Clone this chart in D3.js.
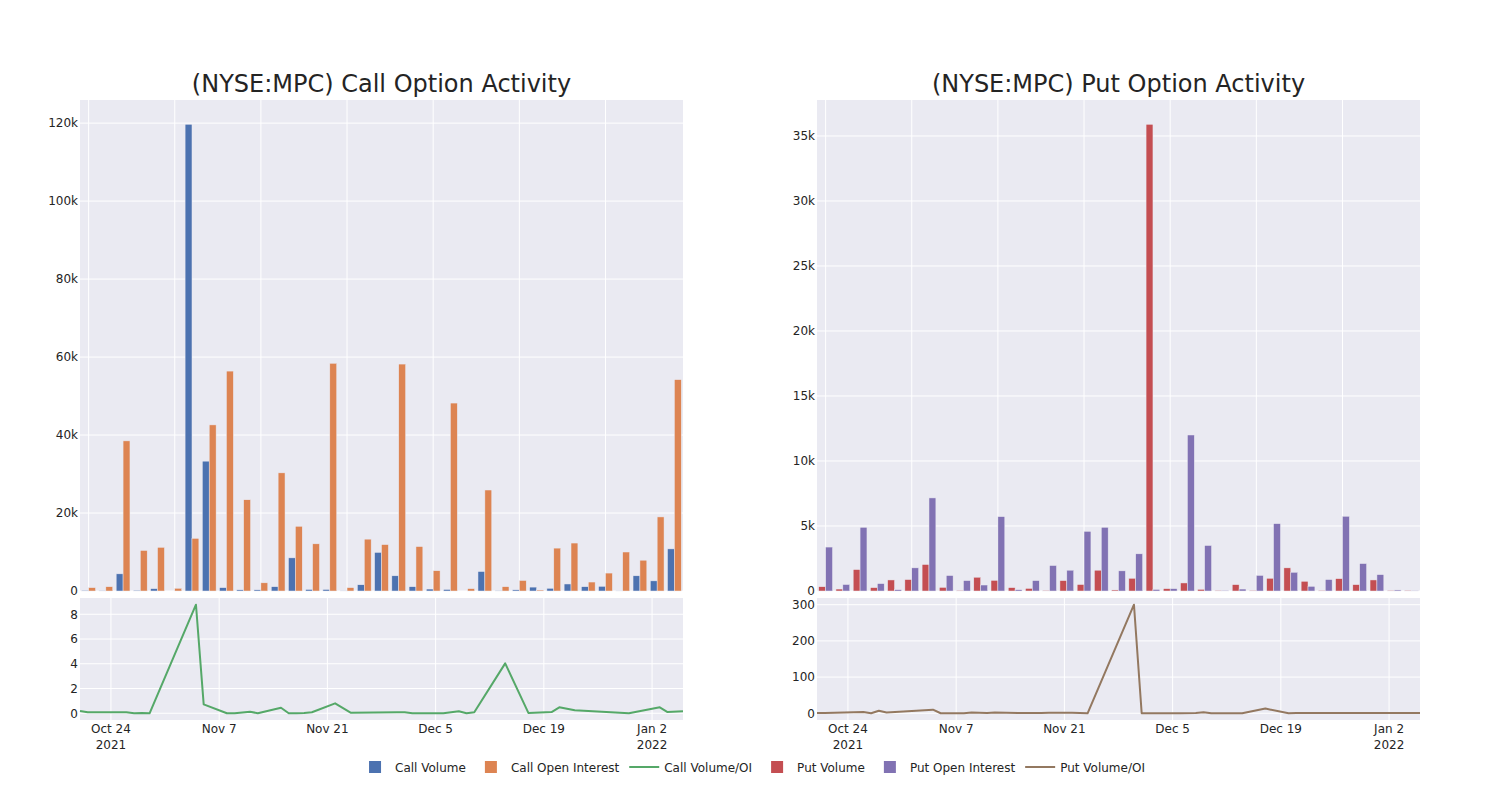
<!DOCTYPE html>
<html lang="en">
<head>
	<meta charset="UTF-8">
	<title>MPC option activity</title>
	<script src="https://cdn.jsdelivr.net/npm/d3@7"></script>
	<style>
		body { margin: 0; background: #fff; }
		text { font-family: "DejaVu Sans", sans-serif; fill: #242424; }
	</style>
</head>
<body>
	<script type="text/javascript">

		var dates = ["2021-10-20", "2021-10-21", "2021-10-26", "2021-10-27", "2021-10-28", "2021-10-29",
			"2021-11-04", "2021-11-05", "2021-11-08", "2021-11-09", "2021-11-11", "2021-11-12",
			"2021-11-15", "2021-11-16", "2021-11-17", "2021-11-18", "2021-11-19", "2021-11-22",
			"2021-11-24", "2021-11-30", "2021-12-01", "2021-12-02", "2021-12-06", "2021-12-08",
			"2021-12-09", "2021-12-10", "2021-12-14", "2021-12-17", "2021-12-20", "2021-12-21",
			"2021-12-23", "2021-12-30", "2022-01-03", "2022-01-04", "2022-01-06"];

		var callVolume = [180, 100, 4400, 200, 600, 0, 119700, 33300, 860, 300, 300, 1100,
			8500, 400, 400, 30, 1600, 9900, 3900, 1100, 500, 400, 0, 5000,
			50, 300, 1000, 700, 1800, 1100, 1200, 20, 3900, 2600, 10800];
		var callOI = [860, 1100, 38500, 10400, 11200, 700, 13500, 42600, 56400, 23400, 2100, 30300,
			16600, 12100, 58400, 860, 13300, 11900, 58200, 11400, 5200, 48200, 600, 25900,
			1100, 2700, 250, 11000, 12300, 2300, 4600, 10000, 7900, 19000, 54200];
		var callRatio = [0.19, 0.08, 0.08, 0, 0.03, 0, 8.77, 0.72, 0, 0, 0.13, 0,
			0.45, 0, 0, 0.02, 0.08, 0.8, 0.05, 0.08, 0.08, 0, 0, 0.16,
			0, 0.08, 4.03, 0.03, 0.1, 0.48, 0.24, 0, 0.48, 0.1, 0.16];

		var putVolume = [330, 150, 1650, 260, 850, 880, 2040, 280, 50, 1060, 820, 260,
			200, 50, 800, 500, 1600, 80, 980, 35900, 180, 620, 130, 50,
			490, 50, 980, 1780, 750, 50, 950, 490, 850, 50, 50];
		var putOI = [3380, 500, 4900, 570, 100, 1780, 7160, 1190, 800, 460, 5720, 100,
			800, 1960, 1600, 4590, 4900, 1550, 2860, 120, 180, 12000, 3500, 50,
			150, 1200, 5180, 1440, 360, 880, 5750, 2110, 1260, 80, 30];
		var putRatio = [1, 1, 3.7, 0, 7, 2, 10, 0, 0, 2, 0.5, 2,
			1, 1, 1, 1, 1.5, 1.5, 0, 300, 0, 0, 0, 1,
			3, 0, 0, 13, 0, 0.5, 0.5, 0.7, 1, 1, 1];

		var callTicks = [0, 20000, 40000, 60000, 80000, 100000, 120000];
		var putTicks = [0, 5000, 10000, 15000, 20000, 25000, 30000, 35000];
		var callRatioTicks = [0, 2, 4, 6, 8];
		var putRatioTicks = [0, 100, 200, 300];
		var dateTicks = ["2021-10-24", "2021-11-07", "2021-11-21", "2021-12-05", "2021-12-19", "2022-01-02"];
		var dateTickLabels = [["Oct 24", "2021"], ["Nov 7"], ["Nov 21"], ["Dec 5"], ["Dec 19"], ["Jan 2", "2022"]];

		var seriesNames = ["Call Volume", "Call Open Interest", "Call Volume/OI", "Put Volume", "Put Open Interest", "Put Volume/OI"];
		var seriesColors = ["#4C72B0", "#DD8452", "#55A868", "#C44E52", "#8172B3", "#937860"];
		var seriesKinds = ["bar", "bar", "line", "bar", "bar", "line"];

		var w = 1500;
		var h = 800;
		var bg = "#EAEAF2";
		var parseDate = d3.timeParse("%Y-%m-%d");

		var svg = d3.select("body")
					.append("svg")
					.attr("width", w)
					.attr("height", h);

		function drawPanel(left, right, title, vol, oi, ratio, yTicks, rTicks, c1, c2, c3){
			var barTop = 100, barBottom = 591, lineTop = 598, lineBottom = 720;

			svg.append("rect").attr("x", left).attr("y", barTop)
				.attr("width", right - left).attr("height", barBottom - barTop).attr("fill", bg);
			svg.append("rect").attr("x", left).attr("y", lineTop)
				.attr("width", right - left).attr("height", lineBottom - lineTop).attr("fill", bg);

			svg.append("text")
				.attr("x", (left + right) / 2).attr("y", 92)
				.attr("text-anchor", "middle")
				.style("font-size", "24px")
				.text(title);

			// bars on a category axis
			var idx = d3.range(dates.length);
			var xBand = d3.scaleBand().domain(idx).range([left, right])
							.paddingInner(0.2).paddingOuter(0.1);
			var xSub = d3.scaleBand().domain([0, 1]).range([0, xBand.bandwidth()]);
			var yMax = Math.max(d3.max(vol), d3.max(oi)) * 1.052;
			var y = d3.scaleLinear().domain([0, yMax]).range([barBottom, barTop]);

			var gGrid = svg.append("g");
			for (var t of yTicks){
				gGrid.append("line").attr("x1", left).attr("x2", right)
					.attr("y1", y(t)).attr("y2", y(t))
					.attr("stroke", "#fff").attr("stroke-width", 1);
			}
			for (var i of idx){
				if (i % 5 != 0) continue;
				var cx = xBand(i) + xBand.step() * 0 + xBand.bandwidth() / 2;
				gGrid.append("line").attr("x1", cx).attr("x2", cx)
					.attr("y1", barTop).attr("y2", barBottom)
					.attr("stroke", "#fff").attr("stroke-width", 1);
			}

			var yAxis = d3.axisLeft(y).tickValues(yTicks).tickFormat(d3.format("~s")).tickSize(0).tickPadding(2);
			var ga = svg.append("g").attr("transform", "translate(" + left + ",0)").call(yAxis);
			ga.select(".domain").remove();
			ga.selectAll("text").style("font-size", "12px").attr("fill", "#242424");

			var sets = [[vol, c1], [oi, c2]];
			sets.forEach(function(s, k){
				svg.append("g").selectAll("rect")
					.data(s[0])
					.enter().append("rect")
					.attr("x", function(d, i){ return xBand(i) + xSub(k); })
					.attr("width", xSub.bandwidth())
					.attr("y", function(d){ return y(d); })
					.attr("height", function(d){ return y(0) - y(d); })
					.attr("fill", s[1])
					.attr("stroke", bg)
					.attr("stroke-width", 0.5);
			});

			// ratio line on a date axis
			var times = dates.map(parseDate);
			var x = d3.scaleTime().domain(d3.extent(times)).range([left, right]);
			var rMax = d3.max(ratio), rMin = d3.min(ratio);
			var pad = (rMax - rMin) * 0.062;
			var yr = d3.scaleLinear().domain([rMin - pad, rMax + pad]).range([lineBottom, lineTop]);

			for (var t of rTicks){
				svg.append("line").attr("x1", left).attr("x2", right)
					.attr("y1", yr(t)).attr("y2", yr(t))
					.attr("stroke", "#fff").attr("stroke-width", 1);
			}
			var tickDates = dateTicks.map(parseDate);
			tickDates.forEach(function(d, k){
				svg.append("line").attr("x1", x(d)).attr("x2", x(d))
					.attr("y1", lineTop).attr("y2", lineBottom)
					.attr("stroke", "#fff").attr("stroke-width", 1);
				var tx = svg.append("text")
					.attr("x", x(d)).attr("y", 733)
					.attr("text-anchor", "middle")
					.style("font-size", "12px");
				dateTickLabels[k].forEach(function(s, j){
					tx.append("tspan").attr("x", x(d)).attr("dy", j == 0 ? 0 : 15.5).text(s);
				});
			});

			var rAxis = d3.axisLeft(yr).tickValues(rTicks).tickFormat(d3.format("~s")).tickSize(0).tickPadding(2);
			var gr = svg.append("g").attr("transform", "translate(" + left + ",0)").call(rAxis);
			gr.select(".domain").remove();
			gr.selectAll("text").style("font-size", "12px").attr("fill", "#242424");

			var line = d3.line()
						.x(function(d, i){ return x(times[i]); })
						.y(function(d){ return yr(d); });
			svg.append("path")
				.datum(ratio)
				.attr("d", line)
				.attr("fill", "none")
				.attr("stroke", c3)
				.attr("stroke-width", 2)
				.attr("stroke-linejoin", "round");
		}

		drawPanel(80, 683, "(NYSE:MPC) Call Option Activity", callVolume, callOI, callRatio,
			callTicks, callRatioTicks, seriesColors[0], seriesColors[1], seriesColors[2]);
		drawPanel(817, 1420, "(NYSE:MPC) Put Option Activity", putVolume, putOI, putRatio,
			putTicks, putRatioTicks, seriesColors[3], seriesColors[4], seriesColors[5]);

		// legend, laid out then centred
		var legend = svg.append("g");
		var lx = 0;
		seriesNames.forEach(function(name, k){
			var item = legend.append("g").attr("transform", "translate(" + lx + ",0)");
			if (seriesKinds[k] == "bar"){
				item.append("rect").attr("x", 14).attr("y", -6).attr("width", 12).attr("height", 12)
					.attr("fill", seriesColors[k]);
			} else {
				item.append("line").attr("x1", 5).attr("x2", 35).attr("y1", 0).attr("y2", 0)
					.attr("stroke", seriesColors[k]).attr("stroke-width", 2);
			}
			var txt = item.append("text").attr("x", 40).attr("y", 4.5)
				.style("font-size", "12px").text(name);
			lx += 40 + txt.node().getComputedTextLength() + 5;
		});
		legend.attr("transform", "translate(" + (750 - (lx - 5) / 2) + ",767)");

	</script>
</body>
</html>
